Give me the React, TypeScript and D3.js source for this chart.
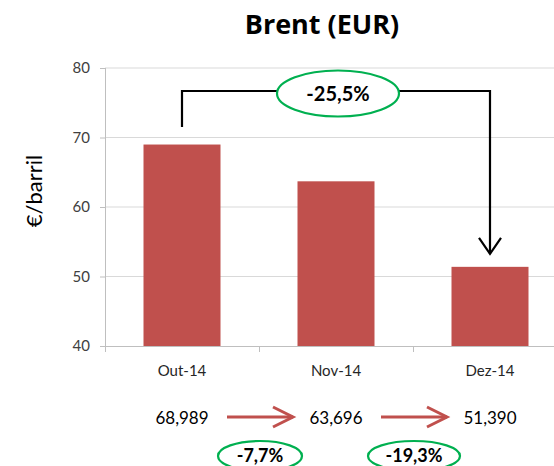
import React from "react";
import * as d3 from "d3";

const categories = ["Out-14", "Nov-14", "Dez-14"];
const values = [68.989, 63.696, 51.39];
const valueLabels = ["68,989", "63,696", "51,390"];
const stepChanges = ["-7,7%", "-19,3%"];
const totalChange = "-25,5%";
const yTicks = [40, 50, 60, 70, 80];

const W = 554;
const H = 466;
const FONT = "Lato, 'Open Sans', sans-serif";
const BAR = "#c0504d";
const GREEN = "#00b050";

export default function App() {
  const x = d3.scaleBand<string>().domain(categories).range([105, 567]).paddingInner(0.5).paddingOuter(0.25);
  const y = d3.scaleLinear().domain([40, 80]).range([346, 68]);
  const bw = x.bandwidth();
  const cx = (c: string) => (x(c) as number) + bw / 2;
  const step = x.step();
  const boundaries = categories.map((_, i) => 105 + step * (i + 1));

  const x0 = cx(categories[0]);
  const x2 = cx(categories[2]);
  const topY = 91;
  const arrowTip = y(values[2]) - 13;
  const midX = (x0 + x2) / 2;

  return (
    <svg width={W} height={H} style={{ position: "absolute", left: 0, top: 0 }} fontFamily={FONT}>
      <rect width={W} height={H} fill="#fff" />
      <text x={322} y={34} textAnchor="middle" fontSize={27} fontWeight="bold" fill="#000" fontFamily="'Open Sans', sans-serif">Brent (EUR)</text>
      {yTicks.slice(1).map((t) => (
        <line key={t} x1={105} x2={W} y1={y(t)} y2={y(t)} stroke="#d9d9d9" strokeWidth={1} />
      ))}
      {categories.map((c, i) => (
        <rect key={c} x={x(c)} y={y(values[i])} width={bw} height={y(40) - y(values[i])} fill={BAR} />
      ))}
      <line x1={105.5} x2={105.5} y1={68} y2={352} stroke="#bfbfbf" />
      <line x1={105} x2={W} y1={346.5} y2={346.5} stroke="#bfbfbf" />
      {yTicks.map((t) => (
        <g key={t}>
          <line x1={100} x2={105} y1={y(t) + 0.5} y2={y(t) + 0.5} stroke="#bfbfbf" />
          <text x={90} y={y(t) + 5} textAnchor="end" fontSize={15} fill="#404040">{t}</text>
        </g>
      ))}
      {boundaries.map((b, i) => (
        <line key={i} x1={b + 0.5} x2={b + 0.5} y1={346} y2={352} stroke="#bfbfbf" />
      ))}
      {categories.map((c) => (
        <text key={c} x={cx(c)} y={376} textAnchor="middle" fontSize={15} fill="#262626">{c}</text>
      ))}
      <text transform={`translate(42,191) rotate(-90)`} textAnchor="middle" fontSize={22} fill="#000">€/barril</text>

      <path d={`M${x0},127 V${topY} H${x2} V${arrowTip}`} fill="none" stroke="#000" strokeWidth={2.2} />
      <path d={`M${x2 - 11},${arrowTip - 16} L${x2},${arrowTip} L${x2 + 11},${arrowTip - 16}`} fill="none" stroke="#000" strokeWidth={2.2} />
      <ellipse cx={midX + 2} cy={93.5} rx={61} ry={23} fill="#fff" stroke={GREEN} strokeWidth={2.2} />
      <text x={midX + 2} y={101} textAnchor="middle" fontSize={20} fontWeight="bold" fill="#000">{totalChange}</text>

      {categories.map((c, i) => (
        <text key={c} x={cx(c)} y={424} textAnchor="middle" fontSize={17} fill="#000">{valueLabels[i]}</text>
      ))}
      {stepChanges.map((s, i) => {
        const a = cx(categories[i]) + 45;
        const b = cx(categories[i + 1]) - 43;
        const m = boundaries[i];
        return (
          <g key={s}>
            <line x1={a} x2={b} y1={417} y2={417} stroke={BAR} strokeWidth={3} />
            <path d={`M${b - 20},${407} L${b},${417} L${b - 20},${427}`} fill="none" stroke={BAR} strokeWidth={3} />
            <ellipse cx={m + 1} cy={456} rx={i === 0 ? 42 : 46} ry={15} fill="#fff" stroke={GREEN} strokeWidth={2.2} />
            <text x={m + 1} y={462} textAnchor="middle" fontSize={18} fontWeight="bold" fill="#000">{s}</text>
          </g>
        );
      })}
    </svg>
  );
}
